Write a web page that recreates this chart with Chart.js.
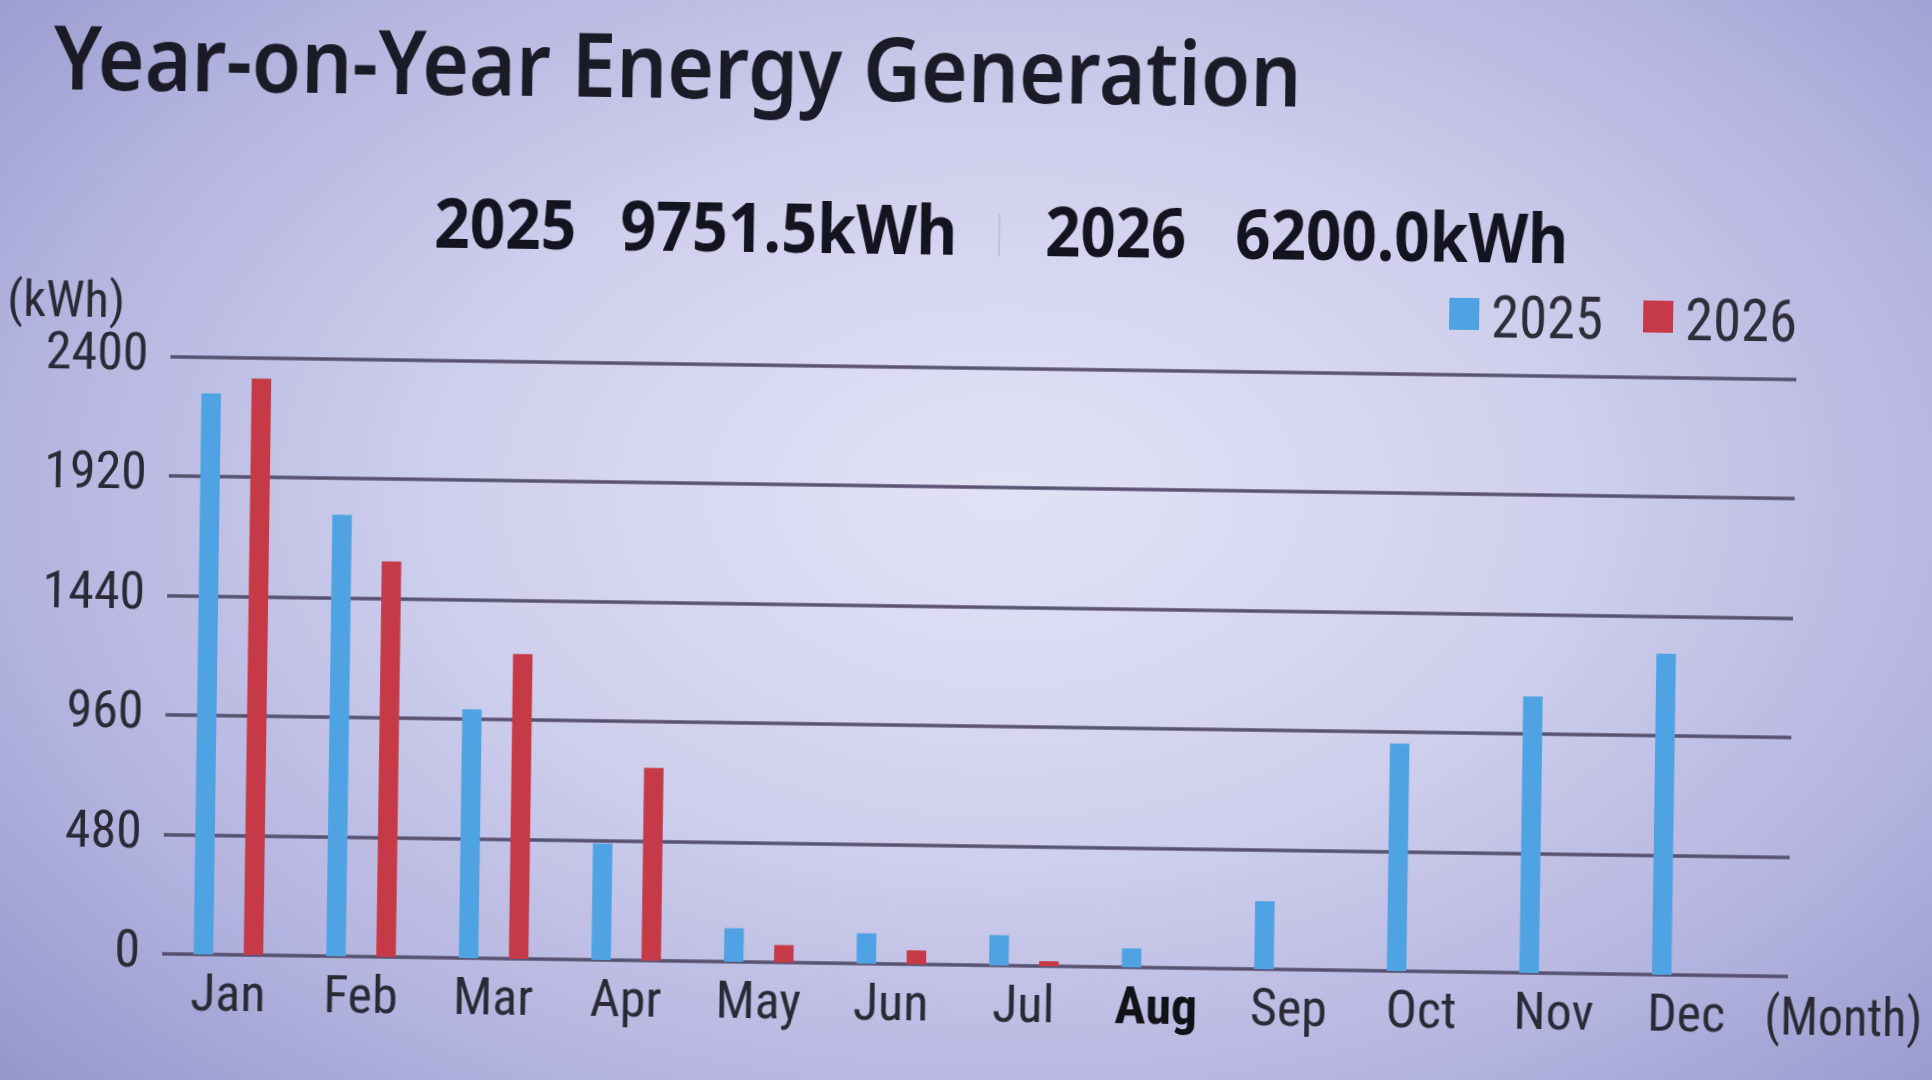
<!DOCTYPE html>
<html>
<head>
<meta charset="utf-8">
<script src="https://cdn.jsdelivr.net/npm/chart.js@4.4.1/dist/chart.umd.min.js"></script>
<style>
  html, body { margin:0; padding:0; width:1932px; height:1080px; overflow:hidden; }
  body {
    background: radial-gradient(ellipse 70% 80% at 52% 46%, rgb(226,226,246) 0%, rgb(208,208,238) 40%, rgb(178,178,222) 75%, rgb(150,150,204) 100%);
  }
  #stage { position:absolute; left:0; top:0; width:1932px; height:1080px; transform:rotate(0.8deg); transform-origin:966px 540px; }
  #chart { position:absolute; left:0; top:0; }
  .txt { position:absolute; white-space:pre; transform-origin:0 0; color:#1c1c2a; }
  .sep { position:absolute; width:2px; background:rgba(175,175,195,0.55); }
  .lbox { position:absolute; }
</style>
</head>
<body>
<div id="stage">
  <canvas id="chart" width="1932" height="1080"></canvas>
  <div id="overlay"></div>
</div>
<script>
// ---------------- data ----------------
const months   = ['Jan','Feb','Mar','Apr','May','Jun','Jul','Aug','Sep','Oct','Nov','Dec'];
const gen2025  = [2255, 1775, 1000, 468, 135, 122, 122, 76, 273, 915, 1112, 1290];
const gen2026  = [2318, 1590, 1225, 775, 70, 56, 20, null, null, null, null, null];
const seriesLabels = ['2025', '2026'];
const yearTotals   = ['9751.5kWh', '6200.0kWh'];
const yTicks   = [0, 480, 960, 1440, 1920, 2400];
const currentMonth = 'Aug';
const titleText = 'Year-on-Year Energy Generation';
const yUnit = '(kWh)';
const xUnit = '(Month)';

// ---------------- styles ----------------
const BLUE = '#4fa3e3';
const RED = '#c63a48';
const GRID = 'rgba(78,72,102,0.92)';
const NARROW = '"Liberation Sans Narrow", "Roboto Condensed", Roboto, sans-serif';
const TICK_COLOR = '#2a2a36';

const extGrid = {
  id: 'extGrid',
  beforeDatasetsDraw(chart) {
    const { ctx, chartArea, scales: { y } } = chart;
    ctx.save();
    ctx.strokeStyle = GRID;
    ctx.lineWidth = 3.5;
    y.ticks.forEach(t => {
      const py = Math.round(y.getPixelForValue(t.value));
      ctx.beginPath();
      ctx.moveTo(chartArea.left, py);
      ctx.lineTo(chartArea.right + 35, py);
      ctx.stroke();
    });
    ctx.restore();
  }
};

const chart = new Chart(document.getElementById('chart'), {
  type: 'bar',
  data: {
    labels: months,
    datasets: [
      { label: seriesLabels[0], data: gen2025, backgroundColor: BLUE },
      { label: seriesLabels[1], data: gen2026, backgroundColor: RED }
    ]
  },
  options: {
    responsive: false,
    animation: false,
    devicePixelRatio: 1,
    layout: { padding: { top: 368, right: 173, bottom: 0, left: 0 } },
    datasets: { bar: { categoryPercentage: 0.755, barPercentage: 0.39 } },
    plugins: { legend: { display: false }, title: { display: false }, tooltip: { enabled: false } },
    scales: {
      x: {
        grid: { display: false, drawTicks: false },
        border: { display: false },
        ticks: {
          autoSkip: false, maxRotation: 0, padding: 12,
          color: c => months[c.index] === currentMonth ? '#111118' : TICK_COLOR,
          font: c => ({ family: NARROW, size: 52, weight: months[c.index] === currentMonth ? 'bold' : 'normal' })
        },
        afterFit: s => { s.height = 115; }
      },
      y: {
        min: 0, max: 2400,
        grid: { display: false, drawTicks: false },
        border: { display: false },
        afterBuildTicks: s => { s.ticks = yTicks.map(v => ({ value: v })); },
        ticks: { padding: 22, color: TICK_COLOR, font: { family: NARROW, size: 52 }, callback: v => String(v) },
        afterFit: s => { s.width = 168; }
      }
    }
  },
  plugins: [extGrid]
});

// ---------------- overlay texts ----------------
const mc = document.createElement('canvas').getContext('2d');
const overlay = document.getElementById('overlay');
function addText(text, font, left, baseline, targetWidth, color) {
  const el = document.createElement('div');
  el.className = 'txt';
  el.textContent = text;
  el.style.font = font;
  mc.font = font;
  const m = mc.measureText(text);
  const asc = m.fontBoundingBoxAscent, desc = m.fontBoundingBoxDescent;
  el.style.lineHeight = (asc + desc) + 'px';
  el.style.left = left + 'px';
  el.style.top = (baseline - asc) + 'px';
  if (targetWidth) el.style.transform = 'scaleX(' + (targetWidth / m.width) + ')';
  if (color) el.style.color = color;
  overlay.appendChild(el);
  return m.width * (targetWidth ? targetWidth / m.width : 1);
}

// title
addText(titleText, '600 88px "Noto Sans"', 47, 102, 1248, '#1b1b28');
// subtitle totals
const SUBF = 'bold 68px "Noto Sans"';
addText(seriesLabels[0], SUBF, 430, 255, 142, '#141420');
addText(yearTotals[0],  SUBF, 616, 255, 337, '#141420');
const sep = document.createElement('div');
sep.className = 'sep';
sep.style.left = '994px'; sep.style.top = '214px'; sep.style.height = '42px';
overlay.appendChild(sep);
addText(seriesLabels[1], SUBF, 1041, 255, 141, '#141420');
addText(yearTotals[1],  SUBF, 1231, 255, 333, '#141420');

// axis units
addText(yUnit, '50px ' + NARROW, 4, 329, 118, '#2a2a36');
addText(xUnit, '54px ' + NARROW, 1771, 1023, 158, '#2a2a36');

// legend built from chart datasets
(function legend() {
  const font = '60px ' + NARROW;
  const ds = chart.data.datasets;
  const boxW = 30, boxH = 32, gap = 12, itemGap = 40;
  mc.font = font;
  const widths = ds.map(d => Math.min(mc.measureText(d.label).width, 112));
  let total = ds.reduce((a, d, i) => a + boxW + gap + widths[i], 0) + itemGap * (ds.length - 1);
  let x = 1794 - total;
  ds.forEach((d, i) => {
    const b = document.createElement('div');
    b.className = 'lbox';
    b.style.left = x + 'px'; b.style.top = '291px';
    b.style.width = boxW + 'px'; b.style.height = boxH + 'px';
    b.style.background = d.backgroundColor;
    overlay.appendChild(b);
    x += boxW + gap;
    addText(d.label, font, x, 330, widths[i], '#2e2e3a');
    x += widths[i] + itemGap;
  });
})();
</script>
</body>
</html>
